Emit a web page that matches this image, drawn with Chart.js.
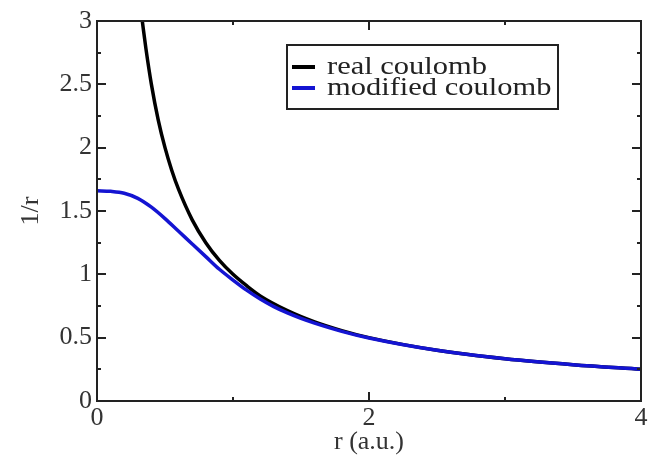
<!DOCTYPE html>
<html>
<head>
<meta charset="utf-8">
<script src="https://cdn.jsdelivr.net/npm/chart.js@4.4.1/dist/chart.umd.min.js"></script>
<style>
  html, body { margin: 0; padding: 0; background: #fff; }
  #wrap { width: 658px; height: 458px; }
</style>
</head>
<body>
<div id="wrap"><canvas id="chart"></canvas></div>
<script>
// values
const realR = [0.333, 0.36, 0.4, 0.45, 0.5, 0.55, 0.6, 0.7, 0.8, 0.9, 1.0, 1.1, 1.2, 1.4, 1.6, 1.8, 2.0, 2.5, 3.0, 3.5, 4.0];
const realV = [3.0, 2.78, 2.5, 2.22, 2.0, 1.82, 1.67, 1.43, 1.25, 1.11, 1.0, 0.91, 0.83, 0.714, 0.625, 0.556, 0.5, 0.4, 0.333, 0.286, 0.25];
const modR = [0, 0.1, 0.2, 0.3, 0.4, 0.5, 0.6, 0.7, 0.8, 0.9, 1.0, 1.1, 1.2, 1.3, 1.4, 1.5, 1.6, 1.8, 2.0, 2.5, 3.0, 3.5, 4.0];
const modV = [1.66, 1.655, 1.64, 1.60, 1.53, 1.44, 1.34, 1.24, 1.14, 1.04, 0.955, 0.875, 0.805, 0.745, 0.695, 0.652, 0.615, 0.55, 0.497, 0.4, 0.333, 0.286, 0.25];
const seriesNames = ['real coulomb', 'modified coulomb'];
const xMajor = [0, 2, 4];
const xMinor = [1, 3];
const yMajor = [0, 0.5, 1, 1.5, 2, 2.5, 3];
const yMinor = [0.25, 0.75, 1.25, 1.75, 2.25, 2.75];

const FONT = '"Liberation Serif", "DejaVu Serif", serif';

const toPoints = (xs, ys) => xs.map((x, i) => ({ x: x, y: ys[i] }));

// frame, inward ticks on all four sides, legend box inside the plot
const framePlugin = {
    id: 'frame',
    afterDatasetsDraw(chart) {
        const { ctx, chartArea: a, scales } = chart;
        const sx = scales.x, sy = scales.y;
        ctx.save();
        ctx.strokeStyle = '#222';
        ctx.lineWidth = 2;
        ctx.strokeRect(a.left, a.top, a.right - a.left, a.bottom - a.top);

        const tick = (len, xs, ys) => {
            xs.forEach(v => {
                const px = Math.round(sx.getPixelForValue(v));
                ctx.beginPath();
                ctx.moveTo(px, a.bottom); ctx.lineTo(px, a.bottom - len);
                ctx.moveTo(px, a.top); ctx.lineTo(px, a.top + len);
                ctx.stroke();
            });
            ys.forEach(v => {
                const py = Math.round(sy.getPixelForValue(v));
                ctx.beginPath();
                ctx.moveTo(a.left, py); ctx.lineTo(a.left + len, py);
                ctx.moveTo(a.right, py); ctx.lineTo(a.right - len, py);
                ctx.stroke();
            });
        };
        tick(9, xMajor, yMajor);
        tick(4, xMinor, yMinor);

        // legend (text in the reference is a little stretched sideways)
        const bx = 287, by = 45, bw = 271, bh = 64;
        ctx.fillStyle = '#fff';
        ctx.fillRect(bx, by, bw, bh);
        ctx.lineWidth = 2;
        ctx.strokeStyle = '#222';
        ctx.strokeRect(bx, by, bw, bh);
        ctx.textBaseline = 'middle';
        const order = [0, 1];
        order.forEach((idx, i) => {
            const ds = chart.data.datasets[idx];
            const ly = by + 22 + i * 21;
            ctx.strokeStyle = ds.borderColor;
            ctx.lineWidth = 4;
            ctx.beginPath();
            ctx.moveTo(bx + 5, ly); ctx.lineTo(bx + 28, ly);
            ctx.stroke();
            ctx.save();
            ctx.translate(bx + 40, ly);
            ctx.scale(1.22, 1);
            ctx.font = '25px ' + FONT;
            ctx.fillStyle = '#222';
            ctx.fillText(ds.label, 0, 0);
            ctx.restore();
        });
        ctx.restore();
    }
};

new Chart(document.getElementById('chart'), {
    type: 'line',
    data: {
        datasets: [
            {
                label: seriesNames[0],
                data: toPoints(realR, realV),
                borderColor: '#000000',
                borderWidth: 3.5,
                pointRadius: 0,
                order: 1,
                cubicInterpolationMode: 'monotone'
            },
            {
                label: seriesNames[1],
                data: toPoints(modR, modV),
                borderColor: '#1414d2',
                borderWidth: 3.5,
                pointRadius: 0,
                order: 0,
                cubicInterpolationMode: 'monotone'
            }
        ]
    },
    options: {
        responsive: true,
        maintainAspectRatio: false,
        animation: false,
        layout: { padding: { left: 0, right: 17, top: 21, bottom: 0 } },
        plugins: {
            legend: { display: false },
            tooltip: { enabled: false }
        },
        scales: {
            x: {
                type: 'linear',
                min: 0,
                max: 4,
                afterBuildTicks: s => { s.ticks = xMajor.map(v => ({ value: v })); },
                afterFit: s => { s.height = 57; },
                grid: { display: false, drawTicks: false },
                border: { display: false },
                ticks: {
                    color: '#333',
                    font: { family: FONT, size: 26 },
                    padding: 2,
                    maxRotation: 0,
                    callback: v => String(v)
                },
                title: {
                    display: true,
                    text: 'r (a.u.)',
                    color: '#333',
                    font: { family: FONT, size: 26 },
                    padding: { top: -6, bottom: 0 }
                }
            },
            y: {
                type: 'linear',
                min: 0,
                max: 3,
                afterBuildTicks: s => { s.ticks = yMajor.map(v => ({ value: v })); },
                afterFit: s => { s.width = 97; },
                grid: { display: false, drawTicks: false },
                border: { display: false },
                ticks: {
                    color: '#333',
                    font: { family: FONT, size: 26 },
                    padding: 5,
                    callback: v => String(v)
                },
                title: {
                    display: true,
                    text: '1/r',
                    color: '#333',
                    font: { family: FONT, size: 26 },
                    padding: { top: 16, bottom: 0 }
                }
            }
        }
    },
    plugins: [framePlugin]
});
</script>
</body>
</html>
